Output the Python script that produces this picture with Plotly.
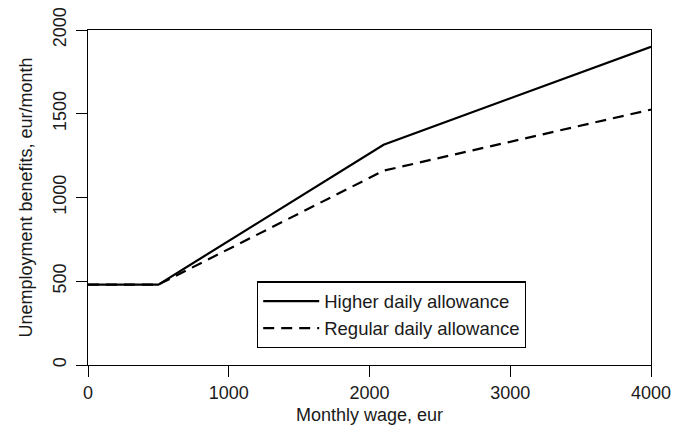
import plotly.graph_objects as go

wage = [0, 500, 2100, 4000]
higher = [480, 480, 1315, 1900]
regular = [480, 480, 1160, 1525]

x_ticks = [0, 1000, 2000, 3000, 4000]
y_ticks = [0, 500, 1000, 1500, 2000]

FONT = "Liberation Sans, Arial, Helvetica, sans-serif"
INK = "#1a1a1a"

fig = go.Figure()
fig.add_trace(go.Scatter(x=wage, y=higher, mode="lines", name="Higher daily allowance",
                         line=dict(color="black", width=2.2)))
fig.add_trace(go.Scatter(x=wage, y=regular, mode="lines", name="Regular daily allowance",
                         line=dict(color="black", width=2.2, dash="11px,7px")))

axis_common = dict(showgrid=False, zeroline=False, showline=True, linecolor="black",
                   linewidth=1.3, mirror=True, ticks="outside", ticklen=11, tickwidth=1.3,
                   tickcolor="black", automargin=False, ticklabeloverflow="allow",
                   tickfont=dict(family=FONT, size=18, color=INK))

# the page body adds an 8px default margin, so the figure is 8px smaller
fig.update_layout(
    template="none",
    width=676, height=425,
    margin=dict(l=80, r=33, t=22, b=68),
    paper_bgcolor="white", plot_bgcolor="white",
    font=dict(family=FONT, size=18, color=INK),
    xaxis=dict(range=[0, 4000], tickvals=x_ticks, ticktext=[str(v) for v in x_ticks],
               title=dict(text="Monthly wage, eur", font=dict(family=FONT, size=18, color=INK),
                          standoff=6),
               **axis_common),
    yaxis=dict(range=[0, 2000], tickvals=y_ticks, ticktext=[str(v) for v in y_ticks],
               tickangle=-90, ticklabelstandoff=3,
               title=dict(text="Unemployment benefits, eur/month",
                          font=dict(family=FONT, size=18, color=INK), standoff=12),
               **axis_common),
    legend=dict(x=0.300, y=0.25, xanchor="left", yanchor="top",
                bordercolor="black", borderwidth=1.3, bgcolor="white",
                font=dict(family=FONT, size=18.5, color=INK),
                tracegroupgap=0, itemwidth=56),
    showlegend=True,
)

fig.write_html("out.html")
